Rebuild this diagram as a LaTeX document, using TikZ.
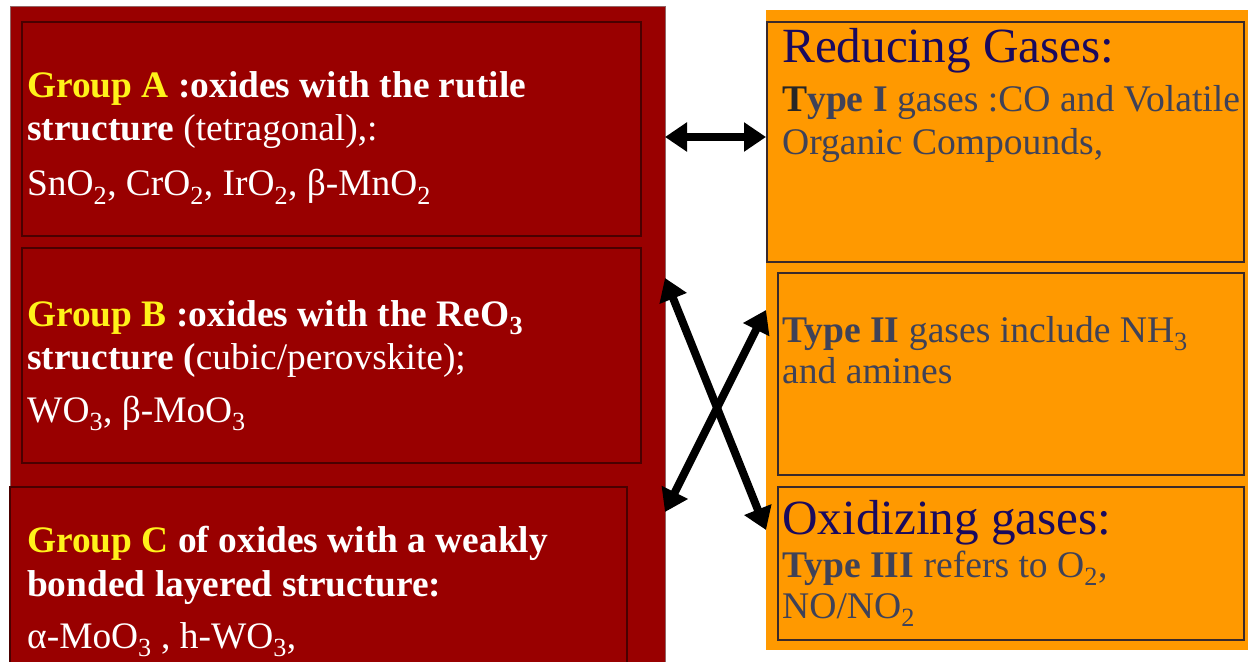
\documentclass[tikz,border=0pt]{standalone}
\usepackage{fontspec}
\setmainfont{Liberation Serif}
\usetikzlibrary{arrows.meta}
\definecolor{darkred}{HTML}{990000}
\definecolor{orng}{HTML}{FF9900}
\definecolor{ylw}{HTML}{FFF21A}
\definecolor{navy}{HTML}{1A0A5E}
\definecolor{slate}{HTML}{3F4258}
\definecolor{edgered}{HTML}{4A0000}
\definecolor{edgeor}{HTML}{3A2A2A}
\begin{document}
\begin{tikzpicture}[x=1bp,y=-1bp,
  redbox/.style={draw=edgered, line width=1.5bp, fill=darkred, anchor=north west, inner sep=0, outer sep=0},
  orbox/.style={draw=edgeor, line width=1.5bp, fill=orng, anchor=north west, inner sep=0, outer sep=0},
  lt/.style={anchor=base west, inner sep=0, text=white, font=\fontsize{37.4bp}{44bp}\selectfont},
  rt/.style={anchor=base west, inner sep=0, text=slate, font=\fontsize{37.6bp}{44bp}\selectfont},
  head/.style={anchor=base west, inner sep=0, text=navy, font=\fontsize{49.2bp}{58bp}\selectfont},
  link/.style={line width=8bp, {Triangle[length=22bp,width=28bp]}-{Triangle[length=22bp,width=28bp]}}
]
\useasboundingbox (0,0) rectangle (1248,662);
\clip (0,0) rectangle (1248,662);
\fill[white] (0,0) rectangle (1248,662);
% left block
\node[redbox, draw=edgered!60, line width=1bp, minimum width=655bp, minimum height=670bp] (left) at (10,7) {};
\node[redbox, minimum width=619bp, minimum height=214bp] (boxA) at (22,22) {};
\node[redbox, minimum width=619bp, minimum height=215bp] (boxB) at (22,248) {};
\node[redbox, minimum width=617bp, minimum height=190bp] (boxC) at (10,487) {};
% right block
\node[fill=orng, anchor=north west, inner sep=0, outer sep=0, minimum width=482bp, minimum height=640bp] (right) at (766,10) {};
\node[orbox, minimum width=477bp, minimum height=240bp] (typeI) at (767,22) {};
\node[orbox, minimum width=466bp, minimum height=202bp] (typeII) at (778,273) {};
\node[orbox, minimum width=466bp, minimum height=153bp] (typeIII) at (778,487) {};
% left texts
\node[lt] (a1) at (27,98) {\textbf{\textcolor{ylw}{Group A} :oxides with the rutile}};
\node[lt] (a2) at (27,141) {\textbf{structure} (tetragonal),:};
\node[lt] (a3) at (27,196) {SnO\textsubscript{2}, CrO\textsubscript{2}, IrO\textsubscript{2}, β-MnO\textsubscript{2}};
\node[lt] (b1) at (27,326) {\textbf{\textcolor{ylw}{Group B} :oxides with the ReO\textsubscript{3}}};
\node[lt] (b2) at (27,369) {\textbf{structure (}cubic/perovskite);};
\node[lt] (b3) at (27,422) {WO\textsubscript{3}, β-MoO\textsubscript{3}};
\node[lt] (c1) at (27,552) {\textbf{\textcolor{ylw}{Group C} of oxides with a weakly}};
\node[lt] (c2) at (27,596) {\textbf{bonded layered structure:}};
\node[lt] (c3) at (27,648) {α-MoO\textsubscript{3} , h-WO\textsubscript{3},};
% right texts
\node[head] (r1) at (782,63) {Reducing Gases:};
\node[rt] (r2) at (782,112) {\textbf{\textcolor{black!85}{T}ype I} gases :CO and Volatile};
\node[rt] (r3) at (782,155) {Organic Compounds,};
\node[rt] (s1) at (782,342) {\textbf{Type II} gases include NH\textsubscript{3}};
\node[rt] (s2) at (782,383) {and amines};
\node[head] (t1) at (782,534) {Oxidizing gases:};
\node[rt] (t2) at (782,577) {\textbf{Type III} refers to O\textsubscript{2},};
\node[rt] (t3) at (782,618) {NO/NO\textsubscript{2}};
% connectors
\draw[link] (left.east |- 0,137) -- (right.west |- 0,137);
\draw[link] (left.east |- 0,278) -- (right.west |- 0,530);
\draw[link] (left.east |- 0,512) -- (right.west |- 0,310);
\end{tikzpicture}
\end{document}
